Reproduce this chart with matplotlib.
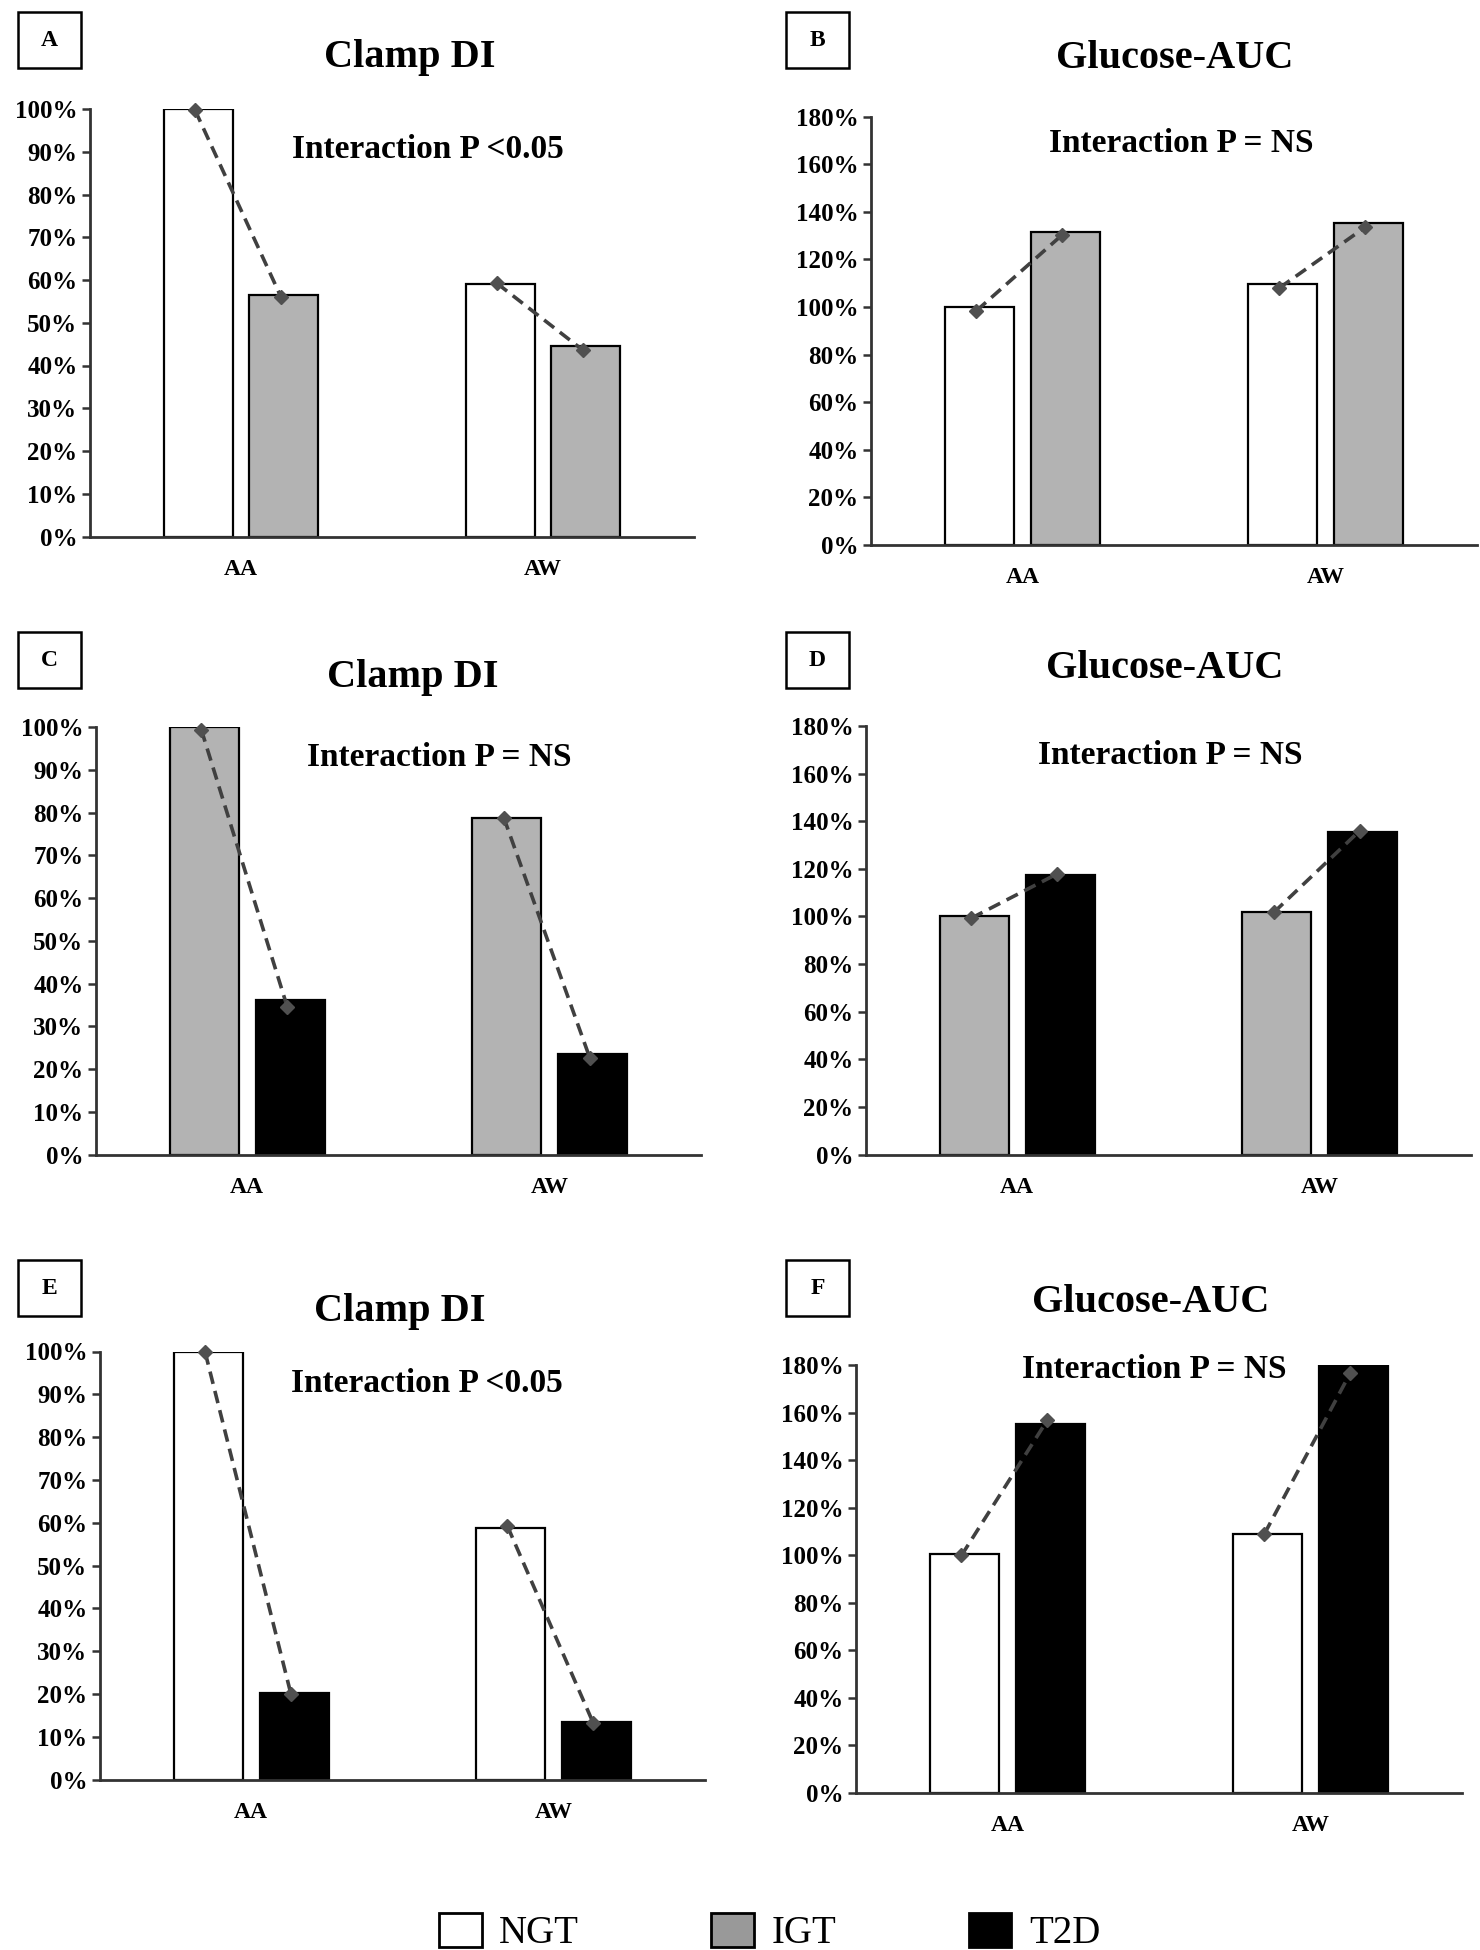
import numpy as np
import matplotlib
matplotlib.use('Agg')
import matplotlib.pyplot as plt
from matplotlib.patches import Patch, Rectangle
from matplotlib.ticker import FuncFormatter

plt.rcParams['font.family'] = 'Liberation Serif'

# DATA (percent of reference group)
categories = ['AA', 'AW']

a_ngt = [100.0, 59.0]
a_igt = [56.5, 44.5]
a_line_ngt = [99.7, 59.2]
a_line_igt = [56.1, 43.6]

b_ngt = [100.0, 109.8]
b_igt = [131.3, 135.2]
b_line_ngt = [98.4, 108.0]
b_line_igt = [130.4, 133.6]

c_igt = [100.0, 78.8]
c_t2d = [36.2, 23.6]
c_line_igt = [99.4, 78.8]
c_line_t2d = [34.6, 22.7]

d_igt = [100.0, 102.0]
d_t2d = [117.5, 135.6]
d_line_igt = [99.3, 101.7]
d_line_t2d = [117.9, 136.0]

e_ngt = [100.0, 58.7]
e_t2d = [20.2, 13.5]
e_line_ngt = [99.8, 59.2]
e_line_t2d = [19.9, 13.2]

f_ngt = [100.5, 109.0]
f_t2d = [155.0, 180.0]
f_line_ngt = [99.9, 109.0]
f_line_t2d = [156.9, 176.8]

group_colors = {'NGT': 'white', 'IGT': '#b3b3b3', 'T2D': 'black'}

W, H = 1480, 1950
fig = plt.figure(figsize=(W / 100, H / 100), dpi=100)


def px_axes(x0, x1, y0, y1):
    return fig.add_axes([x0 / W, 1 - y1 / H, (x1 - x0) / W, (y1 - y0) / H])


def panel(box, letter, title, title_xy, inter, inter_xy, left, right, lline, rline,
          cols, ymax, step, label_box):
    ax = px_axes(*box)
    x = np.arange(len(categories))
    w, off = 0.228, 0.142
    ax.bar(x - off, left, w, color=group_colors[cols[0]], edgecolor='black', linewidth=1.6, zorder=2)
    ax.bar(x + off, right, w, color=group_colors[cols[1]], edgecolor='black', linewidth=1.6, zorder=2)
    for i in range(len(categories)):
        ax.plot([x[i] - off - 0.01, x[i] + off - 0.01], [lline[i], rline[i]], ls=(0, (3.5, 2)),
                color='#404040', lw=2.6, marker='D', ms=7, mfc='#505050', mec='#505050', zorder=3,
                clip_on=False)
    ax.set_xlim(-0.5, 1.5)
    ax.set_ylim(0, ymax)
    ax.set_yticks(np.arange(0, ymax + 1, step))
    ax.yaxis.set_major_formatter(FuncFormatter(lambda v, p: f'{v:.0f}%'))
    ax.set_xticks(x)
    ax.set_xticklabels(categories, fontweight='bold', fontsize=17)
    ax.tick_params(axis='x', length=0, pad=16)
    ax.tick_params(axis='y', length=6, width=1.8, color='#333333', labelsize=18, pad=3)
    for lab in ax.get_yticklabels():
        lab.set_fontweight('bold')
    for s in ['top', 'right']:
        ax.spines[s].set_visible(False)
    for s in ['left', 'bottom']:
        ax.spines[s].set_linewidth(2)
        ax.spines[s].set_color('#333333')

    # panel letter box
    bx0, bx1, by0, by1 = label_box
    fig.add_artist(Rectangle((bx0 / W, 1 - by1 / H), (bx1 - bx0) / W, (by1 - by0) / H,
                             transform=fig.transFigure, fill=False, edgecolor='black', linewidth=1.8))
    fig.text((bx0 + bx1) / 2 / W, 1 - (by0 + by1) / 2 / H, letter, ha='center', va='center',
             fontsize=17, fontweight='bold')
    fig.text(title_xy[0] / W, 1 - title_xy[1] / H, title, ha='center', va='center',
             fontsize=29, fontweight='bold')
    fig.text(inter_xy[0] / W, 1 - inter_xy[1] / H, inter, ha='center', va='center',
             fontsize=24, fontweight='bold')
    return ax


panel((90, 694, 109, 536.5), 'A', 'Clamp DI', (410, 57), 'Interaction P <0.05', (428, 150),
      a_ngt, a_igt, a_line_ngt, a_line_igt, ('NGT', 'IGT'), 100, 10, (18, 81, 12, 68))
panel((871, 1477, 116.5, 545), 'B', 'Glucose-AUC', (1175, 58), 'Interaction P = NS', (1181, 143),
      b_ngt, b_igt, b_line_ngt, b_line_igt, ('NGT', 'IGT'), 180, 20, (786, 849, 12, 68))
panel((96, 701, 727, 1154.6), 'C', 'Clamp DI', (413, 678), 'Interaction P = NS', (439, 758),
      c_igt, c_t2d, c_line_igt, c_line_t2d, ('IGT', 'T2D'), 100, 10, (18, 81, 632, 688))
panel((866, 1471, 726, 1154.6), 'D', 'Glucose-AUC', (1165, 668), 'Interaction P = NS', (1170, 755),
      d_igt, d_t2d, d_line_igt, d_line_t2d, ('IGT', 'T2D'), 180, 20, (786, 849, 632, 688))
panel((100, 704.5, 1351.5, 1779.6), 'E', 'Clamp DI', (400, 1312), 'Interaction P <0.05', (427, 1384),
      e_ngt, e_t2d, e_line_ngt, e_line_t2d, ('NGT', 'T2D'), 100, 10, (18, 81, 1260, 1316))
panel((856, 1462, 1365, 1793), 'F', 'Glucose-AUC', (1151, 1302), 'Interaction P = NS', (1154, 1370),
      f_ngt, f_t2d, f_line_ngt, f_line_t2d, ('NGT', 'T2D'), 180, 20, (786, 849, 1260, 1316))

handles = [Patch(facecolor=group_colors[g] if g != 'IGT' else '#999999', edgecolor='black',
                 linewidth=2, label=g) for g in ['NGT', 'IGT', 'T2D']]
fig.legend(handles=handles, loc='center', bbox_to_anchor=(0.52, 0.009), ncol=3, frameon=False,
           fontsize=28, handlelength=1.1, handleheight=1.0, handletextpad=0.45,
           columnspacing=3.4, borderaxespad=0, borderpad=0)

fig.savefig('out.png', dpi=100, facecolor='white')
